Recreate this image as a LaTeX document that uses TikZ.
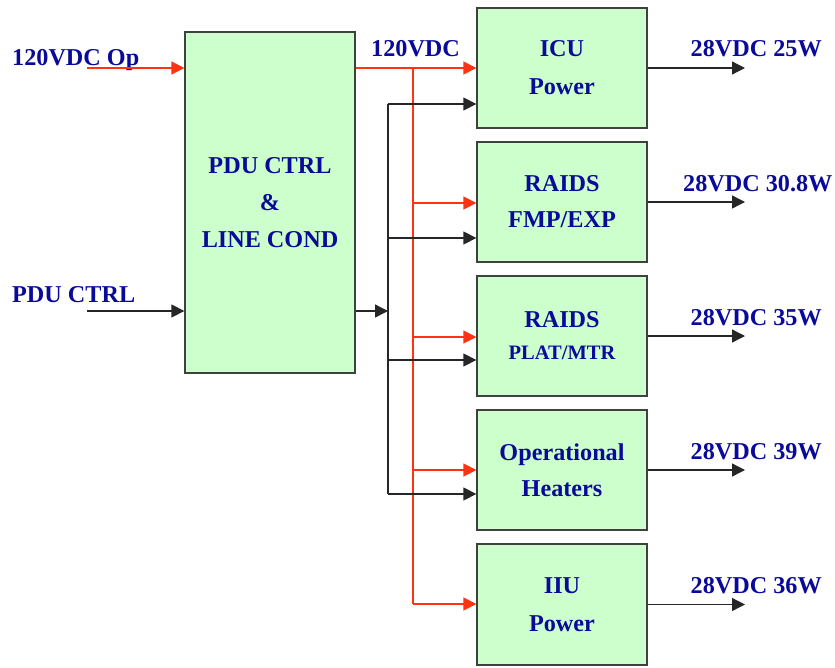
\documentclass[tikz,border=0pt]{standalone}
\usepackage{fontspec}
\setmainfont{Liberation Serif}
\usetikzlibrary{arrows.meta}
\definecolor{boxfill}{HTML}{CCFFCC}
\definecolor{txt}{HTML}{0A0A9A}
\definecolor{redl}{HTML}{FF3311}
\definecolor{bord}{HTML}{404040}
\begin{document}
\begin{tikzpicture}[x=1pt,y=-1pt,
  box/.style={draw=bord,line width=1.3pt,fill=boxfill,minimum width=170pt,minimum height=120pt,inner sep=0pt,align=center,text=txt,font=\fontsize{24.2}{37}\selectfont\bfseries},
  lbl/.style={text=txt,font=\fontsize{24.2}{28}\selectfont\bfseries,inner sep=0pt},
  rline/.style={draw=redl,line width=1.3pt},
  bline/.style={draw=black!85,line width=1.3pt},
  rarr/.style={rline,-{Triangle[length=13pt,width=13pt]}},
  barr/.style={bline,-{Triangle[length=13pt,width=13pt]}}]
\useasboundingbox (0,0) rectangle (835,667);
% boxes
\node[box,minimum height=341pt] (pdu) at (270,202.5) {PDU CTRL\\\&\\LINE COND};
\node[box] (icu) at (562,68) {ICU\\[1pt]Power};
\node[box] (fmp) at (562,202) {RAIDS\\[-1pt]FMP/EXP};
\node[box] (plat) at (562,336) {RAIDS\\[-5pt]{\fontsize{20.5}{24}\selectfont PLAT/MTR}};
\node[box] (heat) at (562,470) {Operational\\[-1pt]Heaters};
\node[box,minimum height=121pt] (iiu) at (562,604.5) {IIU\\[1pt]Power};
% labels
\node[lbl,anchor=base west] (lop) at (12,65) {120VDC Op};
\node[lbl,anchor=base west] (lctrl) at (12,302) {PDU CTRL};
\node[lbl,anchor=base west] (l120) at (371,56) {120VDC};
\node[lbl,anchor=base east] (o1l) at (822,56) {28VDC 25W};
\node[lbl,anchor=base west] (o2l) at (683,191) {28VDC 30.8W};
\node[lbl,anchor=base east] (o3l) at (822,325) {28VDC 35W};
\node[lbl,anchor=base east] (o4l) at (822,459) {28VDC 39W};
\node[lbl,anchor=base east] (o5l) at (822,593) {28VDC 36W};
% coordinates
\coordinate (inOp) at (87,68);
\coordinate (inCtrl) at (87,311);
\coordinate (rtop) at (413,68);
\coordinate (r2) at (413,203);
\coordinate (r3) at (413,337);
\coordinate (r4) at (413,470);
\coordinate (r5) at (413,604);
\coordinate (bj) at (388,311);
\coordinate (b1) at (388,104);
\coordinate (b2) at (388,238);
\coordinate (b3) at (388,360);
\coordinate (b4) at (388,494);
\coordinate (oend) at (745,68);
% red power
\draw[rarr] (inOp) -- (inOp -| pdu.west);
\draw[rarr] (pdu.east |- icu.west) -- (icu.west);
\draw[rline] (rtop) -- (r5);
\draw[rarr] (r2) -- (r2 -| fmp.west);
\draw[rarr] (r3) -- (r3 -| plat.west);
\draw[rarr] (r4) -- (r4 -| heat.west);
\draw[rarr] (r5) -- (r5 -| iiu.west);
% black control
\draw[barr] (inCtrl) -- (inCtrl -| pdu.west);
\draw[barr] (pdu.east |- bj) -- (bj);
\draw[bline] (b1) -- (b4);
\draw[barr] (b1) -- (b1 -| icu.west);
\draw[barr] (b2) -- (b2 -| fmp.west);
\draw[barr] (b3) -- (b3 -| plat.west);
\draw[barr] (b4) -- (b4 -| heat.west);
% outputs
\draw[barr] (icu.east) -- (icu.east -| oend);
\draw[barr] (fmp.east) -- (fmp.east -| oend);
\draw[barr] (plat.east) -- (plat.east -| oend);
\draw[barr] (heat.east) -- (heat.east -| oend);
\draw[barr] (iiu.east) -- (iiu.east -| oend);
\end{tikzpicture}
\end{document}
